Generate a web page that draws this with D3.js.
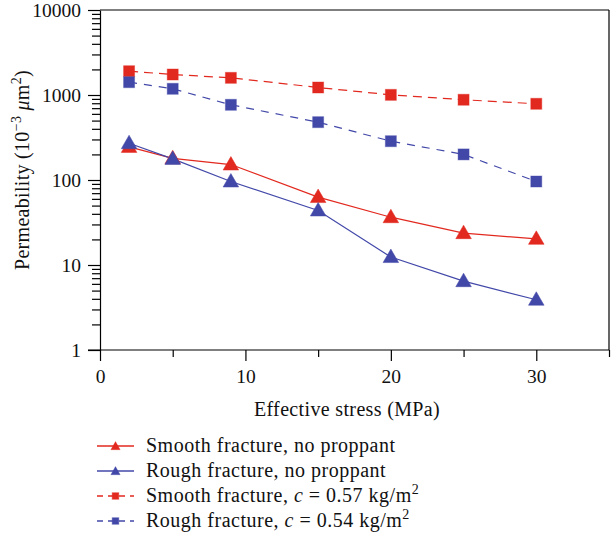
<!DOCTYPE html>
<html>
<head>
<meta charset="utf-8">
<script src="https://cdn.jsdelivr.net/npm/d3@7"></script>
<style>
  body { margin: 0; background: #fff; }
  svg { font-family: 'Liberation Serif', 'DejaVu Serif', serif; }
</style>
</head>
<body>
<div id="chart"></div>
<script>
// effective stress (MPa)
const stress = [2, 5, 9, 15, 20, 25, 30];
// permeability, 10^-3 um^2
const smoothNoProppant = [245, 180, 152, 63, 36.5, 23.7, 20.3];
const roughNoProppant = [271, 177, 96, 43.8, 12.4, 6.45, 3.9];
const smoothProppant = [1905, 1742, 1592, 1225, 1004, 879, 788];
const roughProppant = [1415, 1183, 767, 479, 286, 200, 96];

const xTicks = [0, 10, 20, 30];
const xMinorTicks = [5, 15, 25, 35];
const yTicks = [1, 10, 100, 1000, 10000];

const red = '#e2291f';
const blue = '#4248a8';

const series = [
  { name: 'smooth', label: ['Smooth fracture, no proppant'], values: smoothNoProppant, color: red, dash: null, marker: 'tri' },
  { name: 'rough', label: ['Rough fracture, no proppant'], values: roughNoProppant, color: blue, dash: null, marker: 'tri' },
  { name: 'smoothP', label: ['Smooth fracture, ', 'c', ' = 0.57 kg/m', '2'], values: smoothProppant, color: red, dash: '9,6', marker: 'sq' },
  { name: 'roughP', label: ['Rough fracture, ', 'c', ' = 0.54 kg/m', '2'], values: roughProppant, color: blue, dash: '8,7', marker: 'sq' },
];

const plotWidth = 616, plotHeight = 545;
const mLeft = 100, mRight = 609, mTop = 10, mBottom = 350;

const svg = d3.select('#chart').append('svg')
  .attr('width', plotWidth).attr('height', plotHeight);

const xScale = d3.scaleLinear().domain([0, 35]).range([mLeft, mRight]);
const yScale = d3.scaleLog().domain([1, 10000]).range([mBottom, mTop]);

// frame top and right
svg.append('line').attr('x1', mLeft).attr('x2', mRight).attr('y1', mTop).attr('y2', mTop)
  .attr('stroke', '#000').attr('stroke-width', 1.2);
svg.append('line').attr('x1', mRight).attr('x2', mRight).attr('y1', mTop).attr('y2', mBottom)
  .attr('stroke', '#000').attr('stroke-width', 1.2);

// y axis minor ticks
let yMinor = [];
yTicks.slice(0, -1).forEach(d => { for (let k = 2; k <= 9; k++) yMinor.push(d * k); });

svg.append('g')
  .attr('transform', 'translate(' + mLeft + ',0)')
  .call(d3.axisLeft(yScale).tickValues(yMinor).tickSize(8).tickFormat(() => ''))
  .call(g => g.select('.domain').remove())
  .selectAll('line').attr('stroke-width', 1.2);

const yAxis = svg.append('g')
  .attr('transform', 'translate(' + mLeft + ',0)')
  .call(d3.axisLeft(yScale).tickValues(yTicks).tickSize(12).tickSizeOuter(0).tickPadding(7).tickFormat(d3.format('d')));
yAxis.select('.domain').attr('stroke-width', 1.2);
yAxis.selectAll('line').attr('stroke-width', 1.2);
yAxis.selectAll('text').attr('font-size', 19.5).attr('font-family', 'Liberation Serif').attr('fill', '#111');

// x axis
svg.append('g')
  .attr('transform', 'translate(0,' + mBottom + ')')
  .call(d3.axisBottom(xScale).tickValues(xMinorTicks).tickSize(7).tickFormat(() => ''))
  .call(g => g.select('.domain').remove())
  .selectAll('line').attr('stroke-width', 1.2);

const xAxis = svg.append('g')
  .attr('transform', 'translate(0,' + mBottom + ')')
  .call(d3.axisBottom(xScale).tickValues(xTicks).tickSize(11).tickSizeOuter(0).tickPadding(8));
xAxis.select('.domain').attr('stroke-width', 1.2).attr('d', 'M' + (mLeft - 12) + ',0H' + mRight);
xAxis.selectAll('line').attr('stroke-width', 1.2);
xAxis.selectAll('text').attr('font-size', 19.5).attr('font-family', 'Liberation Serif').attr('fill', '#111');

// axis titles
svg.append('text')
  .attr('x', 347).attr('y', 416)
  .attr('text-anchor', 'middle').attr('font-size', 20).attr('letter-spacing', 0.35).attr('fill', '#111')
  .text('Effective stress (MPa)');

const yTitle = svg.append('text')
  .attr('transform', 'translate(29,170) rotate(-90)')
  .attr('text-anchor', 'middle').attr('font-size', 20).attr('letter-spacing', 0.3).attr('fill', '#111');
yTitle.append('tspan').text('Permeability (10');
yTitle.append('tspan').attr('dy', -8).attr('font-size', 14).text('\u22123');
yTitle.append('tspan').attr('dy', 8).text(' ');
yTitle.append('tspan').attr('font-style', 'italic').text('\u03bc');
yTitle.append('tspan').text('m');
yTitle.append('tspan').attr('dy', -8).attr('font-size', 14).text('2');
yTitle.append('tspan').attr('dy', 8).text(')');

const line = d3.line()
  .x((d, i) => xScale(stress[i]))
  .y(d => yScale(d));

const triangle = d3.symbol().type(d3.symbolTriangle).size(105);

function drawMarker(g, s, x, y, scale) {
  if (s.marker === 'tri') {
    g.append('path')
      .attr('transform', 'translate(' + x + ',' + (y + 1) + ') scale(' + scale + ')')
      .attr('d', triangle())
      .attr('fill', s.color)
      .attr('stroke', s.color).attr('stroke-width', 0.5);
  } else {
    const h = 5.5 * scale;
    g.append('rect')
      .attr('x', x - h).attr('y', y - h)
      .attr('width', 2 * h).attr('height', 2 * h)
      .attr('fill', s.color)
      .attr('stroke', s.color).attr('stroke-opacity', 0.4).attr('stroke-width', 1);
  }
}

const plot = svg.append('g');
series.forEach(s => {
  plot.append('path')
    .datum(s.values)
    .attr('fill', 'none')
    .attr('stroke', s.color)
    .attr('stroke-width', 1.2)
    .attr('stroke-dasharray', s.dash)
    .attr('d', line);
});
series.forEach(s => {
  s.values.forEach((v, i) => drawMarker(plot, s, xScale(stress[i]), yScale(v), 1));
});

// legend
const legend = svg.append('g');
series.forEach((s, i) => {
  const y = 446 + i * 25;
  legend.append('line')
    .attr('x1', 97).attr('x2', 134).attr('y1', y).attr('y2', y)
    .attr('stroke', s.color).attr('stroke-width', 1.3)
    .attr('stroke-dasharray', s.dash ? '6,5' : null);
  drawMarker(legend, s, 115.5, y, 0.6);
  const t = legend.append('text')
    .attr('x', 146).attr('y', y + 6)
    .attr('font-size', 20).attr('letter-spacing', 0.5).attr('fill', '#111');
  s.label.forEach((part, j) => {
    if (j === 1) t.append('tspan').attr('font-style', 'italic').text(part);
    else if (j === 3) t.append('tspan').attr('dy', -8).attr('font-size', 14).text(part);
    else t.append('tspan').text(part);
  });
});
</script>
</body>
</html>
